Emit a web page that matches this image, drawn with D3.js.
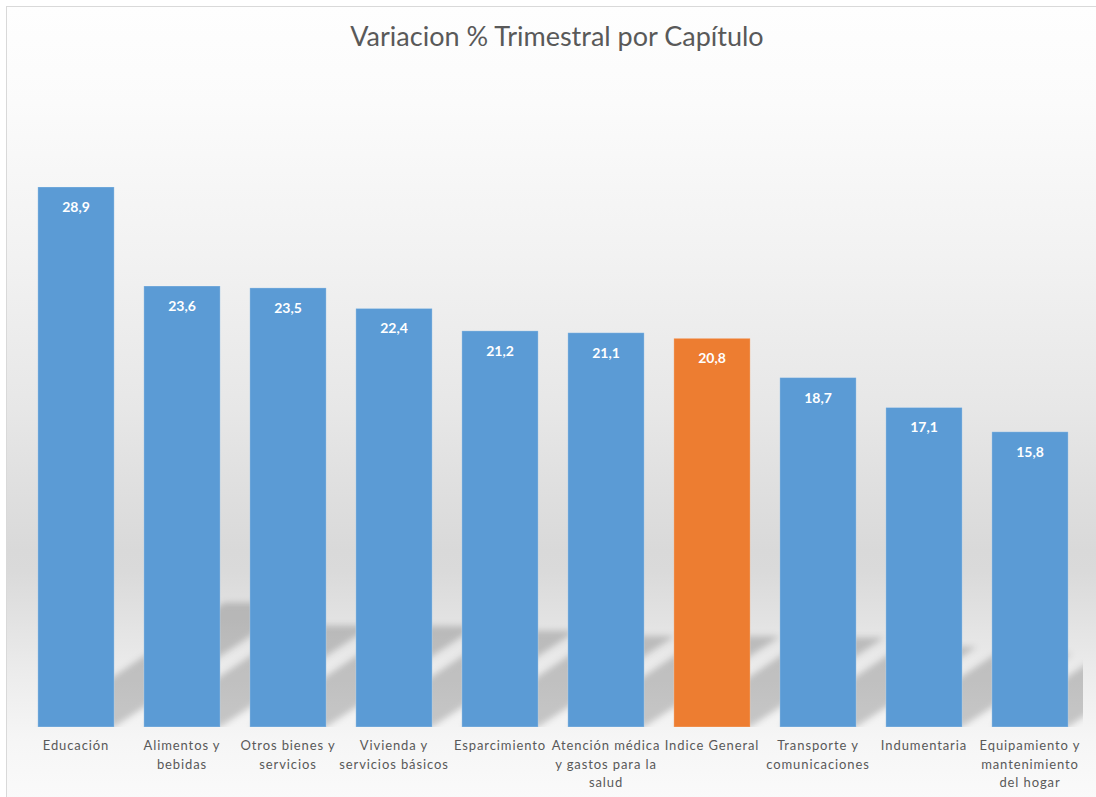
<!DOCTYPE html>
<html lang="es">
<head>
<meta charset="utf-8">
<title>Variacion % Trimestral por Capítulo</title>
<script src="https://cdn.jsdelivr.net/npm/d3@7/dist/d3.min.js"></script>
<style>
body { margin: 0; background: #fff; }
.cat text { font-family: "Lato", sans-serif; font-size: 13px; fill: #595959; letter-spacing: 0.9px; }
</style>
</head>
<body>
<script>
var w = 1096, h = 797;

// data
var categories = ["Educación", "Alimentos y bebidas", "Otros bienes y servicios", "Vivienda y servicios básicos",
  "Esparcimiento", "Atención médica y gastos para la salud", "Indice General", "Transporte y comunicaciones",
  "Indumentaria", "Equipamiento y mantenimiento del hogar"];
var values = [28.9, 23.6, 23.5, 22.4, 21.2, 21.1, 20.8, 18.7, 17.1, 15.8];
var tickLines = [["Educación"], ["Alimentos y", "bebidas"], ["Otros bienes y", "servicios"], ["Vivienda y", "servicios básicos"],
  ["Esparcimiento"], ["Atención médica", "y gastos para la", "salud"], ["Indice General"], ["Transporte y", "comunicaciones"],
  ["Indumentaria"], ["Equipamiento y", "mantenimiento", "del hogar"]];
var highlight = "Indice General";

var plot = {left: 23, right: 1083, top: 73, bottom: 727};

var x = d3.scaleBand().domain(categories).range([plot.left, plot.right]).paddingInner(0.28).paddingOuter(0.14);
var y = d3.scaleLinear().domain([0, 35]).range([plot.bottom, plot.top]);
var fmt = function(v) { return d3.format(".1f")(v).replace(".", ","); };

var svg = d3.select("body").append("svg").attr("width", w).attr("height", h);
var defs = svg.append("defs");

// background gradient (y positions -> grey)
var bgStops = [[6, "#fefefe"], [100, "#fbfbfb"], [250, "#f2f2f2"], [400, "#e7e7e7"], [540, "#d9d9d9"], [560, "#dadada"],
  [600, "#e1e1e1"], [660, "#ececec"], [727, "#f6f6f6"], [797, "#fbfbfb"]];
var grad = defs.append("linearGradient").attr("id", "bg").attr("x1", 0).attr("y1", 0).attr("x2", 0).attr("y2", 1);
bgStops.forEach(function(s) {
  grad.append("stop").attr("offset", (s[0] - 6) / 791).attr("stop-color", s[1]);
});

var blur = defs.append("filter").attr("id", "blur").attr("x", "-20%").attr("y", "-20%").attr("width", "140%").attr("height", "140%");
blur.append("feGaussianBlur").attr("stdDeviation", 3);

defs.append("clipPath").attr("id", "plotclip").append("rect")
  .attr("x", plot.left).attr("y", plot.top).attr("width", plot.right - plot.left).attr("height", plot.bottom - plot.top);

svg.append("rect").attr("x", 6.5).attr("y", 6.5).attr("width", w + 10).attr("height", h + 10)
  .attr("fill", "url(#bg)").attr("stroke", "#d9d9d9");

// title
svg.append("text").attr("x", 557).attr("y", 46).attr("text-anchor", "middle")
  .attr("font-family", "Lato, sans-serif").attr("font-size", "27px").attr("fill", "#595959")
  .text("Variacion % Trimestral por Capítulo");

// perspective shadows
var sk = 1.5, sh = 0.23;
svg.append("g").attr("clip-path", "url(#plotclip)").append("g").attr("filter", "url(#blur)")
  .selectAll("path").data(categories).enter().append("path")
  .attr("fill", "#000").attr("fill-opacity", 0.19)
  .attr("d", function(d, i) {
    var x0 = x(d), x1 = x(d) + x.bandwidth(), b = y(0);
    var s = sh * (y(0) - y(values[i]));
    return "M" + x0 + "," + b + "L" + x1 + "," + b + "L" + (x1 + sk * s) + "," + (b - s) + "L" + (x0 + sk * s) + "," + (b - s) + "Z";
  });

// bars
svg.selectAll("rect.bar").data(categories).enter().append("rect")
  .attr("class", "bar")
  .attr("x", function(d) { return x(d); })
  .attr("y", function(d, i) { return y(values[i]); })
  .attr("width", x.bandwidth())
  .attr("height", function(d, i) { return y(0) - y(values[i]); })
  .attr("fill", function(d) { return d === highlight ? "#ED7D31" : "#5B9BD5"; })
  .attr("stroke", "#fff").attr("stroke-opacity", 0.25).attr("stroke-width", 1);

// value labels
svg.selectAll("text.val").data(categories).enter().append("text")
  .attr("class", "val")
  .attr("x", function(d) { return x(d) + x.bandwidth() / 2; })
  .attr("y", function(d, i) { return y(values[i]) + 25; })
  .attr("text-anchor", "middle")
  .attr("font-family", "Lato, sans-serif").attr("font-weight", "bold").attr("font-size", "14px")
  .attr("fill", "#fff")
  .text(function(d, i) { return fmt(values[i]); });

// category labels
var cat = svg.append("g").attr("class", "cat");
cat.selectAll("text").data(categories).enter().append("text")
  .attr("x", function(d) { return x(d) + x.bandwidth() / 2; })
  .attr("y", 750)
  .attr("text-anchor", "middle")
  .each(function(d, i) {
    var t = d3.select(this);
    tickLines[i].forEach(function(line, j) {
      t.append("tspan").attr("x", x(d) + x.bandwidth() / 2).attr("y", 750 + j * 18.5).text(line);
    });
  });
</script>
</body>
</html>
